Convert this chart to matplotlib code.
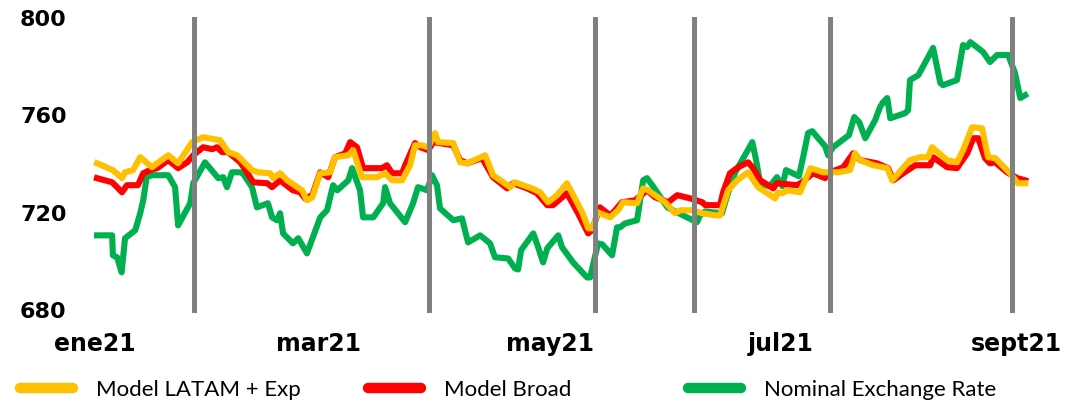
import numpy as np
import pandas as pd
import matplotlib
matplotlib.use("Agg")
import matplotlib.pyplot as plt
from matplotlib.lines import Line2D

# days since 2021-01-01 and values
green_day = [0.5, 4.5, 4.7, 5.8, 7.0, 7.9, 10.6, 11.9, 12.7, 13.6, 15.0, 18.5, 19.3, 21.1, 21.9,
             25.1, 25.9, 29.0, 32.5, 33.8, 34.8, 36.1, 38.3, 39.0, 41.4, 42.7, 45.6, 46.7, 48.0,
             48.8, 49.6, 52.2, 53.6, 55.9, 59.4, 61.2, 62.8, 63.9, 66.8, 67.8, 69.9, 70.7, 73.4,
             76.0, 76.5, 77.8, 81.8, 83.9, 85.2, 87.6, 88.9, 90.2, 91.0, 94.5, 96.8, 98.4, 101.6,
             104.2, 105.5, 109.0, 110.8, 111.6, 112.4, 115.6, 116.9, 118.2, 119.3, 122.2, 123.2,
             126.1, 129.8, 130.6, 132.7, 133.8, 136.4, 137.7, 138.5, 139.8, 143.0, 144.6, 145.6,
             147.0, 151.0, 155.1, 158.8, 159.6, 160.9, 165.4, 166.8, 168.9, 173.4, 174.4, 175.5,
             178.0, 179.9, 181.3, 182.3, 185.7, 186.8, 188.1, 189.2, 192.6, 193.4, 194.7, 198.9,
             200.3, 201.6, 203.2, 205.8, 207.1, 207.9, 209.0, 209.8, 213.7, 214.5, 215.0, 217.2,
             221.1, 223.0, 223.7, 227.4, 229.0, 230.1, 230.9, 234.3, 236.1, 238.0, 240.9, 242.7,
             244.1, 245.4]
green_val = [710.7, 710.7, 702.5, 701.7, 695.5, 709.5, 712.8, 719.8, 725.1, 734.6, 735.4, 735.4,
             735.4, 730.5, 714.8, 723.9, 732.1, 740.7, 734.2, 734.6, 730.5, 736.6, 736.6, 736.2,
             730.5, 722.2, 723.9, 718.1, 716.9, 719.8, 711.5, 707.4, 709.5, 703.3, 718.1, 721.0,
             731.3, 729.2, 733.3, 738.3, 729.2, 718.1, 718.1, 723.9, 730.5, 723.9, 716.1, 723.9,
             730.5, 729.2, 735.4, 731.3, 721.8, 716.9, 717.7, 707.8, 710.7, 707.4, 701.7, 701.2,
             697.1, 696.7, 704.6, 711.5, 705.8, 699.6, 705.4, 710.7, 705.8, 699.6, 693.4, 693.4,
             707.4, 707.0, 702.5, 714.0, 714.0, 715.6, 716.9, 733.3, 734.2, 731.3, 722.2, 718.9,
             716.1, 718.9, 720.5, 719.8, 727.2, 736.6, 749.0, 741.6, 731.7, 730.9, 734.6, 730.9,
             737.5, 735.0, 742.8, 752.7, 753.5, 747.3, 743.6, 746.9, 751.9, 759.3, 757.2, 750.6,
             758.0, 763.4, 765.4, 767.1, 758.8, 760.9, 762.1, 774.5, 776.5, 787.7, 773.3, 772.4,
             774.5, 788.9, 788.1, 790.1, 786.0, 781.9, 784.8, 784.8, 777.4, 767.1, 768.3]

red_day = [0.5, 4.5, 5.8, 7.1, 8.4, 11.3, 12.7, 14.5, 16.4, 19.3, 21.9, 24.3, 25.9, 28.5, 30.9,
           32.2, 33.5, 35.1, 38.3, 40.1, 41.7, 45.4, 46.7, 48.8, 52.2, 54.1, 55.4, 57.3, 59.4,
           61.5, 63.3, 66.0, 67.3, 69.1, 70.7, 75.7, 77.0, 78.4, 81.0, 81.8, 84.4, 85.8, 87.9,
           89.2, 94.5, 96.3, 98.2, 102.1, 105.0, 108.7, 110.3, 114.0, 116.6, 119.3, 120.8, 124.5,
           127.4, 130.1, 131.1, 133.2, 135.9, 137.2, 139.0, 142.5, 145.6, 147.8, 151.2, 153.6,
           157.0, 160.2, 161.0, 164.9, 165.7, 167.5, 169.7, 172.3, 173.6, 175.5, 178.9, 179.9,
           185.2, 186.5, 189.4, 192.6, 193.9, 197.4, 200.0, 201.8, 206.3, 209.2, 210.6, 213.2,
           216.4, 220.3, 221.1, 224.8, 227.4, 230.1, 231.7, 233.0, 234.8, 236.1, 237.5, 240.6,
           243.3, 245.4]
red_val = [734.2, 732.5, 730.5, 728.4, 731.3, 731.3, 736.2, 737.5, 738.3, 741.6, 738.3, 740.7,
           743.6, 746.9, 746.1, 746.9, 744.9, 744.9, 740.7, 736.6, 732.5, 732.1, 730.5, 733.3,
           729.2, 728.4, 725.9, 727.2, 736.6, 734.6, 742.8, 744.4, 749.0, 746.9, 738.3, 738.3,
           739.5, 736.2, 736.2, 739.5, 748.6, 746.9, 745.7, 749.0, 747.7, 741.6, 740.3, 742.4,
           734.6, 730.0, 732.1, 730.0, 728.0, 723.1, 723.1, 728.0, 719.8, 711.5, 712.8, 722.2,
           718.9, 721.0, 724.3, 725.1, 729.2, 726.3, 724.3, 727.2, 725.9, 724.3, 723.1, 723.1,
           728.4, 736.2, 738.7, 740.7, 738.3, 733.3, 730.0, 732.1, 731.3, 732.5, 736.2, 734.2,
           736.6, 738.7, 744.4, 741.6, 740.3, 738.3, 733.3, 736.2, 739.5, 739.5, 742.8, 738.7,
           738.3, 744.4, 750.6, 750.6, 742.4, 740.3, 740.7, 736.6, 734.2, 733.3]

yellow_day = [0.5, 4.7, 7.1, 7.9, 10.0, 11.9, 15.0, 19.3, 21.9, 25.6, 28.5, 33.0, 35.1, 37.5,
              41.4, 43.0, 46.2, 47.0, 48.8, 50.7, 54.6, 55.9, 57.3, 59.4, 62.0, 63.3, 66.8, 68.1,
              70.4, 74.4, 76.5, 78.4, 81.0, 83.1, 84.4, 86.3, 87.9, 89.7, 90.5, 94.5, 96.3, 98.2,
              102.9, 105.0, 109.5, 110.8, 112.9, 115.3, 117.4, 119.5, 121.9, 124.5, 128.5, 130.1,
              131.4, 132.5, 135.9, 138.0, 139.3, 143.0, 144.6, 145.9, 150.4, 153.0, 154.4, 157.5,
              160.2, 163.6, 164.9, 167.0, 169.4, 172.3, 174.9, 179.4, 180.2, 181.3, 182.6, 186.0,
              188.7, 192.1, 196.0, 199.2, 200.5, 201.8, 205.3, 209.0, 210.3, 215.0, 217.7, 219.8,
              220.8, 224.8, 227.4, 229.0, 231.4, 234.0, 235.6, 237.5, 241.4, 243.5, 245.4]
yellow_val = [740.3, 737.5, 734.2, 736.6, 737.5, 742.8, 738.7, 743.6, 740.3, 749.0, 751.0, 749.8,
              744.9, 743.6, 737.5, 736.6, 736.2, 734.2, 736.2, 733.3, 729.2, 725.1, 726.3, 736.2,
              736.6, 742.8, 743.6, 745.7, 734.6, 734.6, 736.2, 733.3, 733.3, 739.5, 747.7, 747.7,
              746.9, 752.7, 749.0, 748.6, 740.7, 740.3, 743.6, 735.4, 730.5, 732.5, 731.3, 730.0,
              728.4, 724.3, 727.2, 732.1, 720.2, 713.6, 713.6, 720.2, 718.1, 721.0, 724.3, 723.9,
              730.0, 729.2, 724.3, 719.8, 721.0, 721.0, 719.8, 718.9, 718.9, 729.2, 733.3, 736.6,
              730.5, 725.9, 728.4, 728.0, 729.2, 728.4, 738.3, 736.6, 736.6, 737.5, 744.4, 741.6,
              739.5, 738.3, 733.3, 741.6, 742.8, 742.8, 746.9, 741.6, 740.7, 745.7, 755.1, 754.7,
              742.8, 742.4, 736.2, 732.1, 732.1]

meeting_dates = ["2021-01-27", "2021-03-30", "2021-05-13", "2021-06-08", "2021-07-14", "2021-08-31"]
tick_dates = ["2021-01-01", "2021-03-01", "2021-05-01", "2021-07-01", "2021-09-01"]
tick_labels = ["ene21", "mar21", "may21", "jul21", "sept21"]
y_ticks = [680, 720, 760, 800]

start = pd.Timestamp("2021-01-01")


def to_dates(days):
    return start + pd.to_timedelta(np.asarray(days), unit="D")


YELLOW = "#FFC000"
RED = "#FF0000"
GREEN = "#00B050"
GREY = "#808080"

fig = plt.figure(figsize=(10.69, 4.08), dpi=100)
ax = fig.add_axes([75 / 1069, 95 / 408, 965 / 1069, 296 / 408])

lw = 4.4
ax.plot(to_dates(green_day), green_val, color=GREEN, lw=lw, solid_joinstyle="round", zorder=2)
ax.plot(to_dates(red_day), red_val, color=RED, lw=lw, solid_joinstyle="round", zorder=3)
ax.plot(to_dates(yellow_day), yellow_val, color=YELLOW, lw=lw, solid_joinstyle="round", zorder=4)

for d in meeting_dates:
    ax.axvline(pd.Timestamp(d), color=GREY, lw=3.6, zorder=5)

ax.set_xlim(start - pd.Timedelta(days=5.3), start + pd.Timedelta(days=249.3))
ax.set_ylim(678.8, 800.4)

ax.set_yticks(y_ticks)
ax.set_yticklabels([str(v) for v in y_ticks], fontsize=16, fontweight="bold")
ax.set_xticks(pd.to_datetime(tick_dates))
ax.set_xticklabels(tick_labels, fontsize=17, fontweight="bold")
ax.tick_params(axis="y", length=0, pad=6)
ax.tick_params(axis="x", length=0, pad=14)
for s in ax.spines.values():
    s.set_visible(False)

# legend entries laid out along the bottom
entries = [("Model LATAM + Exp", YELLOW, 0.0),
           ("Model Broad", RED, 348 / 1069),
           ("Nominal Exchange Rate", GREEN, 668 / 1069)]
for label, col, x0 in entries:
    h = Line2D([], [], color=col, lw=7.5, solid_capstyle="round")
    fig.legend([h], [label], loc="center left", bbox_to_anchor=(x0, 18 / 408),
               frameon=False, handlelength=2.4, handletextpad=1.0,
               prop={"family": ["Lato", "DejaVu Sans"], "size": 16})

fig.savefig("out.png", dpi=100)
